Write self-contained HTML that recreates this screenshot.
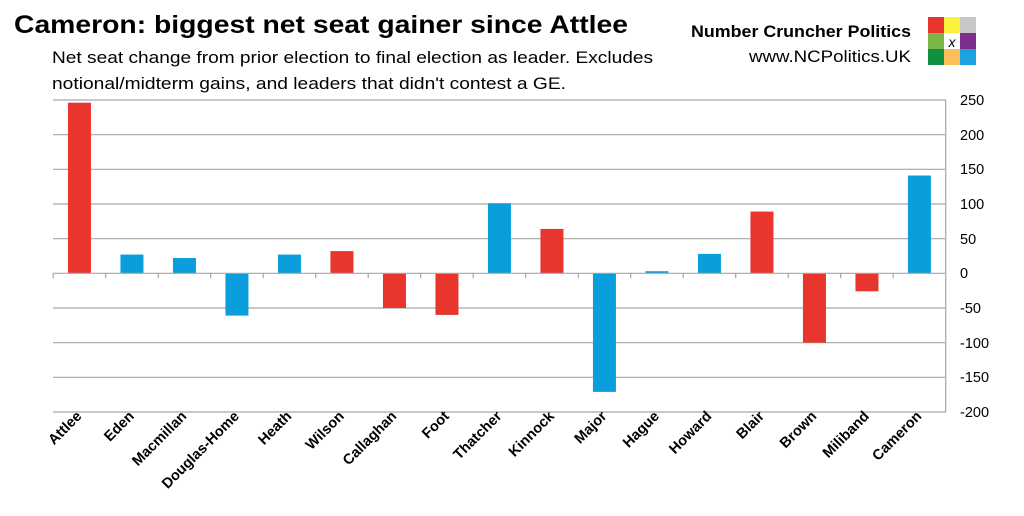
<!DOCTYPE html>
<html><head><meta charset="utf-8"><style>
body{margin:0;background:#fff;}
svg{display:block;font-family:"Liberation Sans",sans-serif;}
</style></head><body>
<svg width="1024" height="516" viewBox="0 0 1024 516" xmlns="http://www.w3.org/2000/svg">
<text x="14" y="33" font-size="25" font-weight="bold" fill="#000" textLength="614" lengthAdjust="spacingAndGlyphs">Cameron: biggest net seat gainer since Attlee</text>
<text x="52" y="63" font-size="17" fill="#000" textLength="601" lengthAdjust="spacingAndGlyphs">Net seat change from prior election to final election as leader. Excludes</text>
<text x="52" y="89" font-size="17" fill="#000" textLength="514" lengthAdjust="spacingAndGlyphs">notional/midterm gains, and leaders that didn't contest a GE.</text>
<text x="911" y="37" font-size="17" font-weight="bold" text-anchor="end" textLength="220" lengthAdjust="spacingAndGlyphs">Number Cruncher Politics</text>
<text x="911" y="62" font-size="17" text-anchor="end" textLength="162" lengthAdjust="spacingAndGlyphs">www.NCPolitics.UK</text>
<rect x="928" y="17" width="16" height="16" fill="#e8352e"/><rect x="944" y="17" width="16" height="16" fill="#fbf03c"/><rect x="960" y="17" width="16" height="16" fill="#c8c8c8"/>
<rect x="928" y="33" width="16" height="16" fill="#7ab648"/><rect x="944" y="33" width="16" height="16" fill="#fff"/><rect x="960" y="33" width="16" height="16" fill="#7d2f8e"/>
<rect x="928" y="49" width="16" height="16" fill="#109040"/><rect x="944" y="49" width="16" height="16" fill="#fbbf5a"/><rect x="960" y="49" width="16" height="16" fill="#1aa3e0"/>
<text x="952" y="47" font-size="14" font-style="italic" text-anchor="middle">x</text>
<g stroke="#a6a6a6" stroke-width="1.2">
<line x1="53" y1="100" x2="946" y2="100"/><line x1="53" y1="134.7" x2="946" y2="134.7"/><line x1="53" y1="169.3" x2="946" y2="169.3"/><line x1="53" y1="204" x2="946" y2="204"/><line x1="53" y1="238.7" x2="946" y2="238.7"/>
<line x1="53" y1="308" x2="946" y2="308"/><line x1="53" y1="342.7" x2="946" y2="342.7"/><line x1="53" y1="377.3" x2="946" y2="377.3"/><line x1="53" y1="412" x2="946" y2="412"/>
<line x1="945.7" y1="100" x2="945.7" y2="412"/>
</g>
<g font-size="14.5" fill="#000">
<text x="960" y="105">250</text><text x="960" y="140">200</text><text x="960" y="174">150</text><text x="960" y="209">100</text><text x="960" y="244">50</text><text x="960" y="278">0</text><text x="960" y="313">-50</text><text x="960" y="348">-100</text><text x="960" y="382">-150</text><text x="960" y="417">-200</text>
</g>
<g id="bars"></g>
<line x1="53" y1="273.3" x2="946" y2="273.3" stroke="#a6a6a6" stroke-width="1.2"/>
<g id="ticks" stroke="#a6a6a6" stroke-width="1.2"></g>
<g id="labels" font-size="14.5" font-weight="bold"></g>
</svg>
<script>
var names=["Attlee","Eden","Macmillan","Douglas-Home","Heath","Wilson","Callaghan","Foot","Thatcher","Kinnock","Major","Hague","Howard","Blair","Brown","Miliband","Cameron"];
var vals=[246,27,22,-61,27,32,-50,-60,101,64,-171,3,28,89,-100,-26,141];
var blue=[0,1,1,1,1,0,0,0,1,0,1,1,1,0,0,0,1];
var ns="http://www.w3.org/2000/svg",s=0.6935,z=273.3,L=53.2,W=52.5;
var b=document.getElementById("bars"),t=document.getElementById("ticks"),l=document.getElementById("labels");
for(var i=0;i<17;i++){var c=L+W*(i+0.5),v=vals[i];
var r=document.createElementNS(ns,"rect");r.setAttribute("x",c-11.5);r.setAttribute("width",23);
r.setAttribute("y",v>0?z-v*s:z);r.setAttribute("height",Math.abs(v)*s);r.setAttribute("fill",blue[i]?"#0a9fdc":"#e8352e");b.appendChild(r);
var k=document.createElementNS(ns,"line");var x=L+W*i;k.setAttribute("x1",x);k.setAttribute("x2",x);k.setAttribute("y1",z);k.setAttribute("y2",z+5);t.appendChild(k);
var tx=document.createElementNS(ns,"text");tx.setAttribute("text-anchor","end");tx.setAttribute("transform","translate("+(c+3)+",417) rotate(-45)");tx.textContent=names[i];l.appendChild(tx);}
</script>
</body></html>
